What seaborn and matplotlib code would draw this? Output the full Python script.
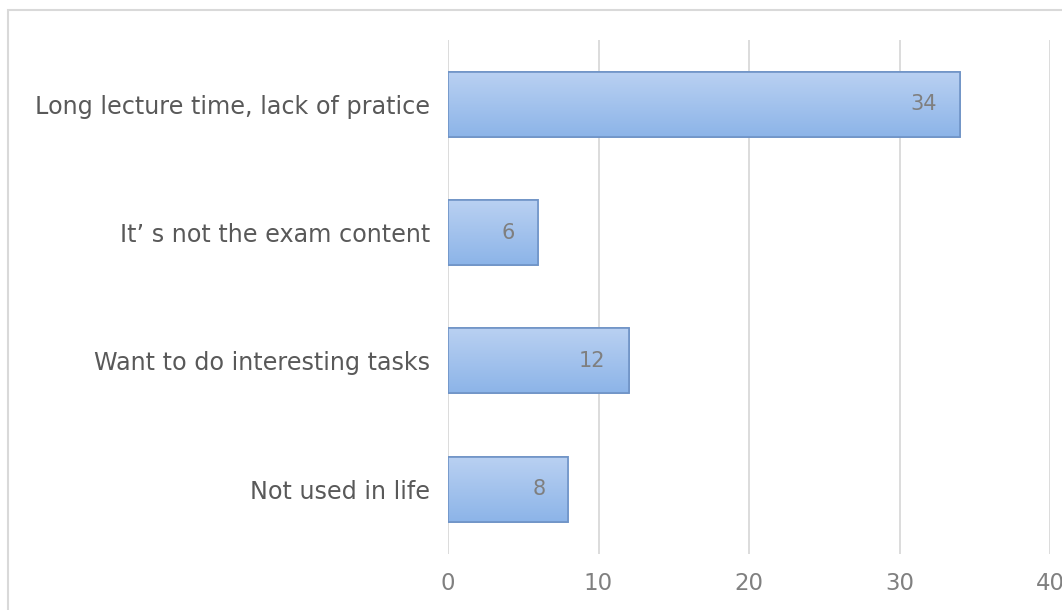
import numpy as np
import pandas as pd
import matplotlib
matplotlib.use("Agg")
import matplotlib.pyplot as plt
from matplotlib.patches import Rectangle
from matplotlib.colors import LinearSegmentedColormap
import seaborn as sns

categories = [
    "Long lecture time, lack of pratice",
    "It\u2019 s not the exam content",
    "Want to do interesting tasks",
    "Not used in life",
]
counts = [34, 6, 12, 8]
x_ticks = [0, 10, 20, 30, 40]

df = pd.DataFrame({"reason": categories, "count": counts})

sns.set_theme(style="white")
plt.rcParams["font.family"] = ["DejaVu Sans"]

W, H = 1062, 610
fig = plt.figure(figsize=(W / 100, H / 100), dpi=100)
fig.patch.set_facecolor("white")

# outer chart frame
fig.patches.append(Rectangle((8 / W, -0.1), 1.2, 1 - 10 / H + 0.1,
                             transform=fig.transFigure, fill=False,
                             edgecolor="#d9d9d9", linewidth=1.5))

ax = fig.add_axes([448 / W, 1 - 553.5 / H, (1050 - 448) / W, (553.5 - 40) / H])
sns.barplot(data=df, x="count", y="reason", order=categories, orient="h",
            width=0.507, color="#a6c4ee", edgecolor="#6f93c6", linewidth=1.2,
            ax=ax, zorder=3)

ax.set_xlim(0, 40)
ax.set_ylim(3.5, -0.5)
ax.set_xticks(x_ticks)
ax.set_xlabel("")
ax.set_ylabel("")
for s in ax.spines.values():
    s.set_visible(False)
ax.grid(axis="x", color="#d9d9d9", linewidth=1.3, zorder=0)
ax.grid(axis="y", visible=False)
ax.tick_params(axis="x", length=0, pad=13, labelsize=16.5, labelcolor="#808080")
ax.tick_params(axis="y", length=0, pad=13, labelsize=17.2, labelcolor="#595959")

# vertical gradient fill inside each bar: light at the top, deeper blue below
cmap = LinearSegmentedColormap.from_list("barfade", ["#bad1f2", "#8cb4e8"])
grad = np.linspace(0, 1, 256).reshape(-1, 1)
for patch in ax.patches[:len(counts)]:
    x0, y0 = patch.get_x(), patch.get_y()
    w, h = patch.get_width(), patch.get_height()
    im = ax.imshow(grad, cmap=cmap, aspect="auto",
                   extent=[x0, x0 + w, y0 + h, y0], origin="upper",
                   zorder=3.5, interpolation="bicubic")
    im.set_clip_path(patch)
    ax.add_patch(Rectangle((x0, y0), w, h, fill=False, edgecolor="#6f93c6",
                           linewidth=1.2, zorder=4))
ax.set_xlim(0, 40)
ax.set_ylim(3.5, -0.5)

# value labels, right-aligned just inside the end of each bar
for i, v in enumerate(counts):
    ax.annotate(str(v), xy=(v, i), xytext=(-23, 0), textcoords="offset pixels",
                ha="right", va="center", color="#7f7f7f", fontsize=15,
                zorder=5)

fig.savefig("out.png", dpi=100)
